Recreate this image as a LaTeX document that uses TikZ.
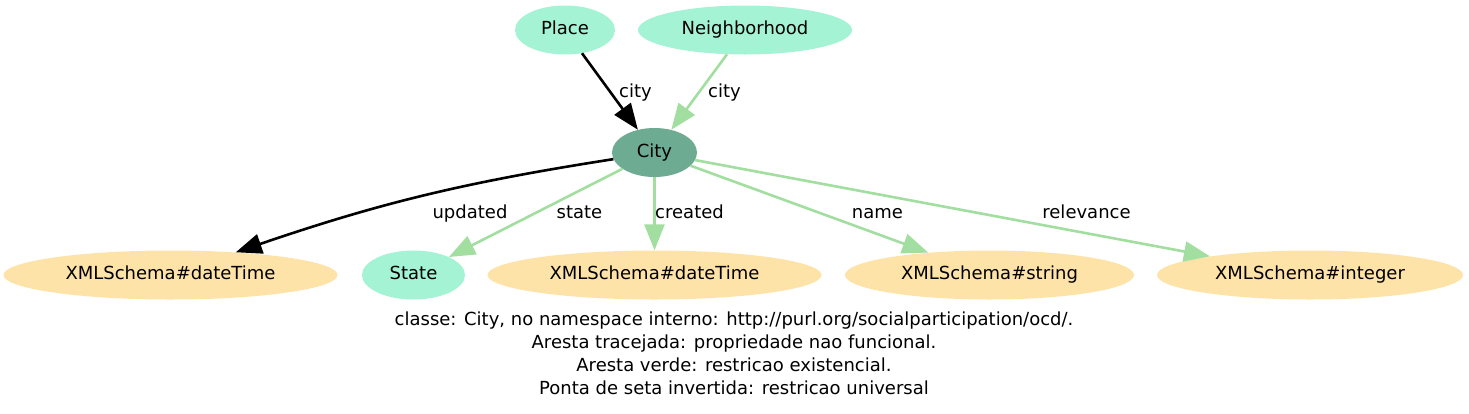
\documentclass[tikz,border=0pt]{standalone}
\usepackage{fontspec}
\setmainfont{DejaVu Sans}
\usetikzlibrary{arrows.meta,shapes.geometric}
\definecolor{aquafill}{HTML}{A3F3D4}
\definecolor{cityfill}{HTML}{6DAB93}
\definecolor{litfill}{HTML}{FEE3A8}
\definecolor{edgegreen}{HTML}{A2DEA0}
\tikzset{
  basenode/.style={ellipse, inner sep=0pt, minimum height=49pt, text height=13pt, text depth=4pt, font=\fontsize{18}{22}\selectfont},
  classnode/.style={basenode, fill=aquafill},
  mainnode/.style={basenode, fill=cityfill},
  litnode/.style={basenode, fill=litfill},
  blackedge/.style={line width=2.6pt, draw=black, -{Triangle[length=26pt,width=20pt]}},
  greenedge/.style={line width=2.6pt, draw=edgegreen, -{Triangle[length=26pt,width=20pt,fill=edgegreen]}},
  elabel/.style={anchor=base, inner sep=0pt, font=\fontsize{18}{22}\selectfont},
}
\begin{document}
\begin{tikzpicture}[x=1pt,y=-1pt]
\useasboundingbox (0,0) rectangle (1469,413);
% nodes
\node[classnode, minimum width=100pt] (place) at (565,30) {Place};
\node[classnode, minimum width=214pt] (neigh) at (745,30) {Neighborhood};
\node[mainnode, minimum width=85pt] (city) at (654.5,152.5) {City};
\node[litnode, minimum width=334pt] (dtL) at (170.5,275) {XMLSchema\#dateTime};
\node[classnode, minimum width=103pt] (state) at (413.5,275) {State};
\node[litnode, minimum width=334pt] (dtM) at (654.5,275) {XMLSchema\#dateTime};
\node[litnode, minimum width=289pt] (str) at (989.5,275) {XMLSchema\#string};
\node[litnode, minimum width=306pt] (int) at (1310,275) {XMLSchema\#integer};
% edges
\draw[blackedge] (place) -- (city);
\draw[greenedge] (neigh) -- (city);
\draw[blackedge] (city) to[bend right=5] (dtL);
\draw[greenedge] (city) -- (state);
\draw[greenedge] (city) -- (dtM);
\draw[greenedge] (city) -- (str);
\draw[greenedge] (city) -- (int);
% edge labels
\node[elabel] (l1) at (635.5,97) {city};
\node[elabel] (l2) at (724.5,97) {city};
\node[elabel] (l3) at (470,218) {updated};
\node[elabel] (l4) at (579.5,218) {state};
\node[elabel] (l5) at (689.5,218) {created};
\node[elabel] (l6) at (877.5,218) {name};
\node[elabel] (l7) at (1086.5,218) {relevance};
% caption
\node[anchor=north, align=center, inner sep=0pt, font=\fontsize{18}{23.2}\selectfont] (caption) at (734,311.3)
  {classe: City, no namespace interno: http://purl.org/socialparticipation/ocd/.\\
   Aresta tracejada: propriedade nao funcional.\\
   Aresta verde: restricao existencial.\\
   Ponta de seta invertida: restricao universal};
\end{tikzpicture}
\end{document}
